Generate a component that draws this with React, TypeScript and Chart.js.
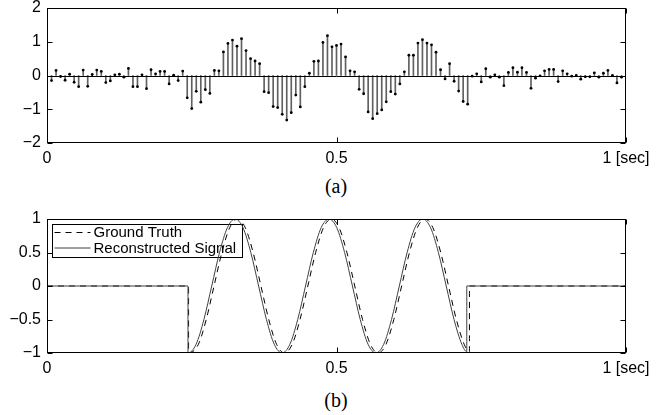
import React, { useEffect, useRef } from 'react';
import { Chart, registerables } from 'chart.js';

Chart.register(...registerables);

// ---- data ----
const SAMPLE_RATE = 128; // samples per second of the stem plot

const stemValues = [
  -0.15, 0.15, -0.03, -0.14, 0.04, -0.2, -0.33, 0.16, -0.32, 0.03,
  0.16, 0.12, -0.21, -0.16, 0.02, 0.04, -0.05, 0.21, -0.33, -0.33,
  0.02, -0.39, 0.17, 0.05, 0.12, 0.12, -0.25, 0.01, -0.15, 0.13,
  -0.66, -0.98, -0.47, -0.79, -0.42, -0.53, 0.15, 0.14, 0.7, 0.95,
  1.05, 0.87, 1.09, 0.74, 0.5, 0.43, 0.35, -0.48, -0.51, -0.92,
  -0.95, -1.15, -1.32, -1.1, -0.58, -0.93, -0.33, 0.07, 0.42, 0.43,
  0.98, 1.18, 0.85, 0.89, 0.93, 0.55, 0.14, 0.11, -0.41, -0.54,
  -1.08, -1.28, -1.13, -1.02, -0.78, -0.48, -0.55, -0.25, 0.11, 0.6,
  0.6, 0.96, 1.06, 0.96, 0.91, 0.69, 0.17, -0.1, 0.35, -0.17,
  -0.46, -0.77, -0.85, -0.02, 0.05, -0.19, 0.2, -0.05, 0.02, -0.05,
  -0.3, 0.09, 0.23, 0.1, 0.23, 0.09, -0.38, -0.08, -0.01, 0.14,
  0.18, 0.18, -0.18, 0.14, 0.05, -0.02, 0.0, -0.11, -0.04, -0.04,
  0.08, -0.05, 0.07, 0.15, 0.0, -0.22, -0.05,
];

const truthTime = [
  0, 0.2445, 0.2445, 0.2615, 0.275, 0.2885, 0.302, 0.3155, 0.329, 0.3425,
  0.356, 0.3695, 0.383, 0.3965, 0.41, 0.4235, 0.437, 0.4505, 0.464, 0.4775,
  0.491, 0.5045, 0.518, 0.5315, 0.545, 0.5585, 0.572, 0.5855, 0.599, 0.6125,
  0.626, 0.6395, 0.653, 0.6665, 0.68, 0.6935, 0.707, 0.7205, 0.7296, 0.7296, 1,
];
const truthValue = [
  0, 0, -1, -0.87, -0.5, 0, 0.5, 0.87, 1, 0.87,
  0.5, 0, -0.5, -0.87, -1, -0.87, -0.5, 0, 0.5, 0.87,
  1, 0.87, 0.5, 0, -0.5, -0.87, -1, -0.87, -0.5, 0,
  0.5, 0.87, 1, 0.87, 0.5, 0, -0.5, -0.87, -0.98, 0, 0,
];

const reconTime = [
  0, 0.2435, 0.2435, 0.2575, 0.271, 0.2845, 0.298, 0.3115, 0.325, 0.3385,
  0.352, 0.3655, 0.379, 0.3925, 0.406, 0.4195, 0.433, 0.4465, 0.46, 0.4735,
  0.487, 0.5005, 0.514, 0.5275, 0.541, 0.5545, 0.568, 0.5815, 0.595, 0.6085,
  0.622, 0.6355, 0.649, 0.6625, 0.676, 0.6895, 0.703, 0.7165, 0.725, 0.725, 1,
];
const reconValue = [
  0, 0, -1, -0.87, -0.5, 0, 0.5, 0.87, 1, 0.87,
  0.5, 0, -0.5, -0.87, -1, -0.87, -0.5, 0, 0.5, 0.87,
  1, 0.87, 0.5, 0, -0.5, -0.87, -1, -0.87, -0.5, 0,
  0.5, 0.87, 1, 0.87, 0.5, 0, -0.5, -0.87, -0.98, 0, 0,
];

const xTicks = [0, 0.5, 1];
const topYTicks = [-2, -1, 0, 1, 2];
const bottomYTicks = [-1, -0.5, 0, 0.5, 1];
const seriesLabels = ['Ground Truth', 'Reconstructed Signal'];
const captions = ['(a)', '(b)'];

// ---- helpers ----
const fmtY = (v: number) => (v < 0 ? '\u2212' + String(-v) : String(v));
const fmtX = (v: number) => (v === 1 ? '1 [sec]' : String(v));
const TICK_FONT = { family: '"Liberation Sans", Arial, sans-serif', size: 16 };

const framePlugin = {
  id: 'frame',
  afterDatasetsDraw(chart: any, _args: any, opts: any) {
    const { ctx, chartArea: a, scales } = chart;
    const L = Math.round(a.left) + 0.5;
    const R = Math.round(a.right) - 0.5;
    const T = Math.round(a.top) + 0.5;
    const B = Math.round(a.bottom) - 0.5;
    ctx.save();
    ctx.strokeStyle = '#000';
    ctx.lineWidth = 1;
    ctx.setLineDash([]);
    ctx.strokeRect(L, T, R - L, B - T);
    ctx.beginPath();
    for (const v of opts.xTicks) {
      const px = Math.round(scales.x.getPixelForValue(v)) + 0.5;
      ctx.moveTo(px, B);
      ctx.lineTo(px, B - 5);
      ctx.moveTo(px, T);
      ctx.lineTo(px, T + 5);
    }
    for (const v of opts.yTicks) {
      const py = Math.round(scales.y.getPixelForValue(v)) + 0.5;
      ctx.moveTo(L, py);
      ctx.lineTo(L + 5, py);
      ctx.moveTo(R, py);
      ctx.lineTo(R - 5, py);
    }
    if (opts.baseline) {
      const py = Math.round(scales.y.getPixelForValue(0)) + 0.5;
      ctx.moveTo(L, py);
      ctx.lineTo(R, py);
    }
    ctx.stroke();
    ctx.restore();
  },
};

const legendBoxPlugin = {
  id: 'legendBox',
  beforeDatasetsDraw(chart: any) {
    const { ctx, chartArea: a } = chart;
    const x0 = Math.round(a.left) + 5.5;
    const y0 = Math.round(a.top) + 5.5;
    const w = 190;
    const h = 33;
    ctx.save();
    ctx.fillStyle = '#fff';
    ctx.fillRect(x0, y0, w, h);
    ctx.strokeStyle = '#000';
    ctx.lineWidth = 1;
    ctx.strokeRect(x0, y0, w, h);
    ctx.font = '15px "Liberation Sans", Arial, sans-serif';
    ctx.textBaseline = 'middle';
    chart.data.datasets.forEach((ds: any, i: number) => {
      const ly = y0 + 8 + i * 15.5;
      ctx.beginPath();
      ctx.setLineDash(ds.borderDash || []);
      ctx.strokeStyle = ds.borderColor;
      ctx.moveTo(x0 + 2, ly);
      ctx.lineTo(x0 + 38, ly);
      ctx.stroke();
      ctx.setLineDash([]);
      ctx.fillStyle = '#000';
      ctx.fillText(ds.label, x0 + 41, ly + 0.5);
    });
    ctx.restore();
  },
};

function xScale() {
  return {
    type: 'linear' as const,
    min: 0,
    max: 1,
    offset: false,
    grid: { display: false, drawTicks: false },
    border: { display: false },
    ticks: {
      stepSize: 0.5,
      padding: 6,
      color: '#000',
      font: TICK_FONT,
      maxRotation: 0,
      callback: (v: any) => fmtX(Number(v)),
    },
    afterFit: (s: any) => {
      s.height = 30;
    },
  };
}

function yScale(min: number, max: number, step: number) {
  return {
    type: 'linear' as const,
    min,
    max,
    grid: { display: false, drawTicks: false },
    border: { display: false },
    ticks: {
      stepSize: step,
      padding: 6,
      color: '#000',
      font: TICK_FONT,
      callback: (v: any) => fmtY(Number(v)),
    },
    afterFit: (s: any) => {
      s.width = 47;
    },
  };
}

export default function App() {
  const topRef = useRef<HTMLCanvasElement>(null);
  const botRef = useRef<HTMLCanvasElement>(null);

  useEffect(() => {
    const stemPoints = stemValues.map((v, i) => ({ x: (i + 1) / SAMPLE_RATE, y: v }));
    const top = new Chart(topRef.current as HTMLCanvasElement, {
      type: 'bar',
      data: {
        datasets: [
          {
            type: 'scatter' as any,
            data: stemPoints,
            pointRadius: 1.4,
            pointBackgroundColor: '#000',
            pointBorderWidth: 0,
            showLine: false,
            order: 0,
          } as any,
          {
            type: 'bar',
            data: stemPoints,
            backgroundColor: '#606060',
            borderWidth: 0,
            barThickness: 1,
            grouped: false,
            order: 1,
          } as any,
        ],
      },
      options: {
        responsive: false,
        animation: false,
        layout: { padding: { top: 20, right: 34, left: 0, bottom: 0 } },
        plugins: {
          legend: { display: false },
          tooltip: { enabled: false },
          frame: { xTicks, yTicks: topYTicks, baseline: true },
        } as any,
        scales: {
          x: xScale(),
          y: yScale(-2, 2, 1),
        } as any,
      },
      plugins: [framePlugin],
    });

    const bottom = new Chart(botRef.current as HTMLCanvasElement, {
      type: 'line',
      data: {
        datasets: [
          {
            label: seriesLabels[0],
            data: truthTime.map((t, i) => ({ x: t, y: truthValue[i] })),
            borderColor: '#000',
            borderWidth: 1,
            borderDash: [6, 5],
            pointRadius: 0,
            fill: false,
            cubicInterpolationMode: 'monotone',
            order: 1,
          },
          {
            label: seriesLabels[1],
            data: reconTime.map((t, i) => ({ x: t, y: reconValue[i] })),
            borderColor: '#404040',
            borderWidth: 1,
            pointRadius: 0,
            fill: false,
            cubicInterpolationMode: 'monotone',
            order: 0,
          },
        ] as any,
      },
      options: {
        responsive: false,
        animation: false,
        layout: { padding: { top: 20, right: 34, left: 0, bottom: 0 } },
        plugins: {
          legend: { display: false },
          tooltip: { enabled: false },
          frame: { xTicks, yTicks: bottomYTicks, baseline: false },
        } as any,
        scales: {
          x: xScale(),
          y: yScale(-1, 1, 0.5),
        } as any,
      },
      plugins: [legendBoxPlugin, framePlugin],
    });

    return () => {
      top.destroy();
      bottom.destroy();
    };
  }, []);

  const captionStyle = (top: number): React.CSSProperties => ({
    position: 'absolute',
    left: 296,
    top,
    width: 80,
    textAlign: 'center',
    fontFamily: '"Liberation Serif", "Times New Roman", serif',
    fontSize: 20,
    lineHeight: '22px',
    color: '#000',
  });

  return (
    <div
      style={{
        position: 'absolute',
        left: 0,
        top: 0,
        width: 660,
        height: 415,
        overflow: 'hidden',
        background: '#fff',
      }}
    >
      <canvas
        ref={topRef}
        width={660}
        height={185}
        style={{ position: 'absolute', left: 0, top: -12, width: 660, height: 185 }}
      />
      <div style={captionStyle(175)}>{captions[0]}</div>
      <canvas
        ref={botRef}
        width={660}
        height={184}
        style={{ position: 'absolute', left: 0, top: 199, width: 660, height: 184 }}
      />
      <div style={captionStyle(389)}>{captions[1]}</div>
    </div>
  );
}
